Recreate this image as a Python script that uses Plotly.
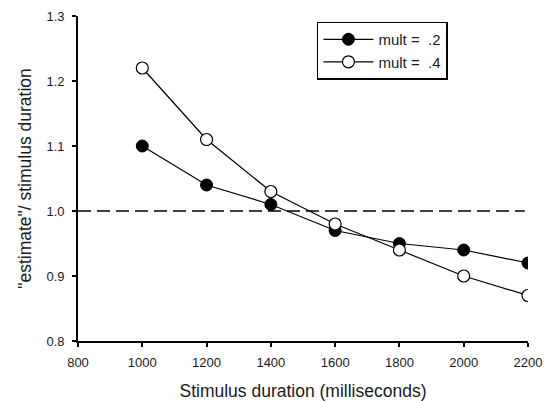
import plotly.graph_objects as go

# Stimulus durations (ms) and the estimate/duration ratios for each multiplier
durations = [1000, 1200, 1400, 1600, 1800, 2000, 2200]
ratio_mult_02 = [1.10, 1.04, 1.01, 0.97, 0.95, 0.94, 0.92]
ratio_mult_04 = [1.22, 1.11, 1.03, 0.98, 0.94, 0.90, 0.87]

x_ticks = [800, 1000, 1200, 1400, 1600, 1800, 2000, 2200]
y_ticks = [0.8, 0.9, 1.0, 1.1, 1.2, 1.3]
reference_level = 1.0

FONT = "Liberation Sans, Arial, sans-serif"
INK = "#1a1a1a"

fig = go.Figure()

fig.add_trace(go.Scatter(
    x=durations, y=ratio_mult_02, name="mult =  .2",
    mode="lines+markers",
    line=dict(color="black", width=1.2),
    marker=dict(symbol="circle", size=12, color="black",
                line=dict(color="black", width=1)),
))
fig.add_trace(go.Scatter(
    x=durations, y=ratio_mult_04, name="mult =  .4",
    mode="lines+markers",
    line=dict(color="black", width=1.2),
    marker=dict(symbol="circle", size=12, color="white",
                line=dict(color="black", width=1.2)),
))

# Dashed reference line at ratio 1.0
fig.add_shape(type="line", xref="x", yref="y",
              x0=800, x1=2190, y0=reference_level, y1=reference_level,
              line=dict(color="black", width=1.5, dash="13px,6px"),
              layer="below")

axis_common = dict(
    showgrid=False, zeroline=False, showline=True, automargin=False,
    linecolor="black", linewidth=1.8,
    ticks="outside", ticklen=4, tickwidth=1.5, tickcolor="black",
    tickfont=dict(family=FONT, size=13, color=INK),
)

fig.update_xaxes(
    range=[800, 2200], tickvals=x_ticks, ticktext=[str(v) for v in x_ticks],
    ticklabelstandoff=4,
    title=dict(text="Stimulus duration (milliseconds)",
               font=dict(family=FONT, size=17.5, color=INK), standoff=16),
    **axis_common,
)
fig.update_yaxes(
    range=[0.8, 1.3], tickvals=y_ticks, tickformat=".1f",
    ticklabelstandoff=5,
    title=dict(text="\"estimate\"/ stimulus duration",
               font=dict(family=FONT, size=17.5, color=INK), standoff=10),
    **axis_common,
)

fig.update_layout(
    width=547, height=401,
    margin=dict(l=78, r=19, t=16, b=60),
    paper_bgcolor="white", plot_bgcolor="white",
    showlegend=True,
    legend=dict(
        x=0.531, y=0.983, xanchor="left", yanchor="top",
        bordercolor="black", borderwidth=1.5, bgcolor="white",
        font=dict(family=FONT, size=15, color=INK),
        itemwidth=50, tracegroupgap=0,
    ),
)

fig.write_html("out.html")
